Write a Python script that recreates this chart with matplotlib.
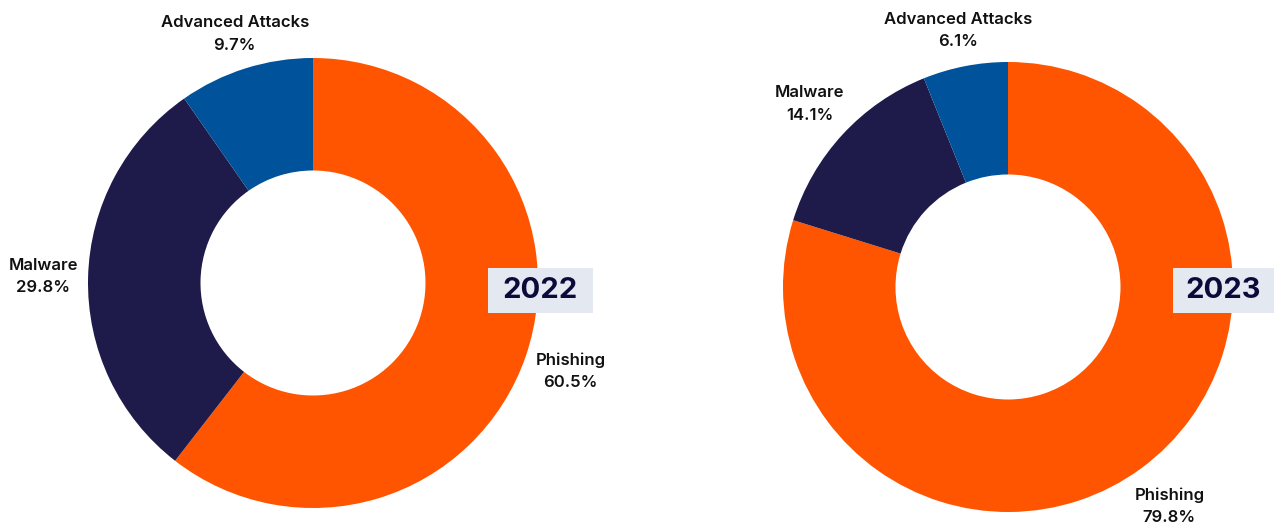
import numpy as np
import matplotlib.pyplot as plt
from matplotlib.patches import Rectangle

plt.rcParams['font.family'] = ['Inter', 'DejaVu Sans']

categories = ['Phishing', 'Malware', 'Advanced Attacks']
shares_2022 = [60.5, 29.8, 9.7]
shares_2023 = [79.8, 14.1, 6.1]
years = ['2022', '2023']

colors = ['#FF5500', '#1E1A4A', '#00529B']
label_color = '#111111'
year_color = '#0B0B3B'
box_color = '#E4E8F0'

W, H = 1274, 524
fig = plt.figure(figsize=(W / 100, H / 100), dpi=100)
ax = fig.add_axes([0, 0, 1, 1])

R = 225
# centre of each donut (pixels, y measured from top), year box (x0, y0, w, h)
layout = [
    {'center': (313, 283), 'box': (488, 268, 105, 45)},
    {'center': (1008, 287), 'box': (1173, 268, 101, 45)},
]

label_dist = {'Phishing': 1.21, 'Malware': 1.2, 'Advanced Attacks': 1.16}

for shares, year, lay in zip([shares_2022, shares_2023], years, layout):
    cx, cy = lay['center']
    cy = H - cy
    ax.pie(shares, colors=colors, startangle=90, counterclock=False,
           center=(cx, cy), radius=R, frame=True,
           wedgeprops=dict(width=R * 0.5, linewidth=0))

    # labels at slice mid-angles
    start = 90.0
    for cat, val in zip(categories, shares):
        mid = start - val * 3.6 / 2
        start -= val * 3.6
        d = R * label_dist[cat]
        x = cx + d * np.cos(np.radians(mid))
        y = cy + d * np.sin(np.radians(mid))
        ax.text(x, y, f'{cat}\n{val}%', ha='center', va='center',
                fontsize=12, fontweight='semibold', color=label_color,
                linespacing=1.6)

    bx, by, bw, bh = lay['box']
    ax.add_patch(Rectangle((bx, H - by - bh), bw, bh, facecolor=box_color,
                           edgecolor='none', zorder=5))
    ax.text(bx + bw / 2, H - by - bh / 2, year, ha='center', va='center',
            fontsize=21, fontweight='bold', color=year_color, zorder=6)

ax.set_xlim(0, W)
ax.set_ylim(0, H)
ax.set_aspect('equal')
ax.axis('off')

fig.savefig('out.png', dpi=100)
